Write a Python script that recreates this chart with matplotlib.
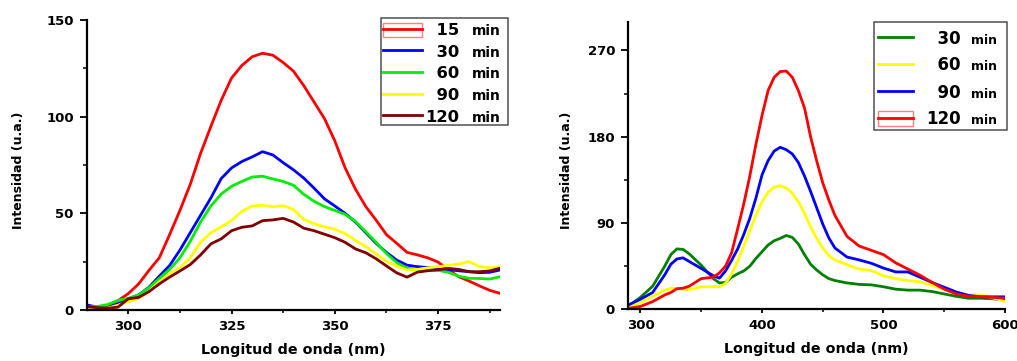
import matplotlib
matplotlib.use('Agg')
import matplotlib.pyplot as plt
from matplotlib.ticker import MultipleLocator
from matplotlib.patches import Rectangle
from matplotlib.legend_handler import HandlerTuple
from matplotlib.font_manager import FontProperties

plt.rcParams['font.family'] = ['DejaVu Sans']
plt.rcParams['font.weight'] = 'bold'

# ---- left panel: emission spectra (290-390 nm), every 2.5 nm ----
wl_a = [290 + 2.5 * i for i in range(41)]
a_15 = [1.5, 1.2, 2, 4.8, 8.5, 13.5, 20.5, 27, 39, 51.5, 65, 81, 95, 108.5, 120, 126.5,
        131, 132.8, 131.8, 128, 123.5, 116, 107.5, 99, 87.5, 73.5, 62.5, 53.5, 46.5, 39,
        34.5, 29.8, 28.5, 27, 24.8, 20.8, 17.2, 15, 12.5, 10.2, 8.6]
a_30 = [2.6, 1.5, 1.2, 3.2, 5.8, 7.8, 11.8, 17.5, 23, 31, 40, 49, 58, 68, 73.5, 76.8,
        79.2, 81.9, 80.2, 76.2, 72.5, 68.2, 63, 57.5, 53.8, 50, 45.5, 40, 34.5, 29.8,
        25.8, 23.2, 22.4, 22, 21.4, 20.8, 20.3, 19.8, 19.3, 19.5, 20.7]
a_60 = [1.5, 1.8, 2.8, 5, 6, 7.8, 11.5, 16.3, 21, 27, 35.5, 45.5, 53.8, 60, 64, 66.5,
        68.8, 69.2, 67.8, 66.5, 64.5, 59.8, 56.2, 53.5, 51.5, 49.5, 45.8, 40.5, 35, 29.2,
        24.5, 21.6, 21, 20.7, 20.5, 19.5, 17.5, 16.4, 16.3, 16, 17.2]
a_90 = [0.9, 0.8, 1, 2.5, 4.3, 6, 9.5, 14.5, 18.6, 22, 27, 35, 40, 43, 46.3, 51,
        53.8, 54.2, 53.4, 54, 52, 46.8, 44.6, 43, 41.8, 39.5, 36, 32.8, 29, 25.2,
        22.6, 20.7, 21, 21.8, 22.4, 23.1, 23.8, 25, 22.5, 21.8, 22.4]
a_120 = [1.7, 1.2, 0.9, 1.5, 5.8, 6.5, 9.5, 13.5, 17, 20.2, 23.5, 28.5, 34.2, 36.8, 41, 42.8,
         43.5, 46.2, 46.6, 47.4, 45.5, 42.3, 41, 39.2, 37.4, 35, 31.6, 29.6, 26.5, 22.8,
         19.2, 17, 19.6, 20.3, 20.8, 21.5, 21, 19.8, 19.8, 20.2, 21.6]
labels_a = ['15', '30', '60', '90', '120']
colors_a = ['#ff0000', '#0000ff', '#00ee00', '#ffff00', '#800000']

# ---- right panel: emission spectra (290-600 nm) ----
wl_b = [290, 300, 310, 320, 325, 330, 335, 340, 350, 360, 365, 370, 375, 380, 385, 390,
        395, 400, 405, 410, 415, 420, 425, 430, 435, 440, 445, 450, 455, 460, 470, 480,
        490, 500, 510, 520, 530, 540, 550, 560, 570, 580, 590, 600]
b_30 = [3, 12.5, 24, 45, 57, 63, 62.5, 58, 46, 32, 27.5, 28, 33.5, 37, 40, 45,
        53, 60, 67, 71.5, 74, 77, 75, 68, 57, 47, 41, 36, 32, 30, 27.5, 26,
        25.5, 23.5, 21, 20, 20, 18.5, 16, 13.5, 11.5, 11.5, 11, 9.5]
b_60 = [2.7, 7, 13.5, 20, 21.8, 21.8, 21, 20.5, 23.5, 23.5, 23.5, 27, 37, 50, 66, 82,
        98, 112, 122, 127.5, 129, 126.5, 121, 112, 100, 86, 74, 64, 56, 51.5, 46.5, 42,
        40.5, 35, 32, 30, 28.7, 25, 21, 17.5, 15, 14.8, 12, 8]
b_90 = [4.5, 10.5, 17.5, 36, 47, 52.5, 53.7, 50, 42.6, 35, 32.5, 40, 51, 63, 78, 95,
        116, 140, 155, 165, 169, 166.5, 162, 153, 139, 123, 106, 89, 74.5, 64, 54.5, 51.5,
        48, 43, 39, 39, 33.5, 28, 23, 18, 14.5, 13, 13, 13]
b_120 = [1, 3, 8, 15, 17.5, 21.5, 22, 24, 32, 33.5, 38, 45, 59, 84, 110, 139,
         172, 202, 228, 242, 248, 248.5, 242, 228, 210, 180, 155, 132, 114, 98, 76, 66,
         61.5, 57, 48.5, 42, 35.6, 28, 21, 16, 13.5, 13, 12.5, 11.5]
labels_b = ['30', '60', '90', '120']
colors_b = ['#008000', '#ffff00', '#0000ff', '#ff0000']

W, H = 1017, 361
fig = plt.figure(figsize=(W / 100, H / 100), dpi=100)
ax1 = fig.add_axes([87 / W, 1 - 310 / H, 413 / W, 290 / H])
ax2 = fig.add_axes([628.3 / W, 1 - 309.3 / H, 376.7 / W, 287.6 / H])


def style(ax, xlim, ylim, xmaj, xmin, ymaj, ymin):
    ax.set_xlim(*xlim)
    ax.set_ylim(*ylim)
    ax.xaxis.set_major_locator(MultipleLocator(xmaj))
    ax.xaxis.set_minor_locator(MultipleLocator(xmin))
    ax.yaxis.set_major_locator(MultipleLocator(ymaj))
    ax.yaxis.set_minor_locator(MultipleLocator(ymin))
    for s in ['top', 'right']:
        ax.spines[s].set_visible(False)
    for s in ['left', 'bottom']:
        ax.spines[s].set_linewidth(1.6)
    ax.tick_params(which='both', direction='out', labelsize=9.5)
    ax.tick_params(axis='y', which='major', length=5, width=1.3, pad=4.5)
    ax.tick_params(axis='y', which='minor', length=3.2, width=1.1)
    ax.tick_params(axis='x', which='major', length=3, width=1.3, pad=4)
    ax.tick_params(axis='x', which='minor', length=2.2, width=1.1)
    for t in ax.get_xticklabels() + ax.get_yticklabels():
        t.set_fontweight('bold')
    ax.set_xlabel('Longitud de onda (nm)', fontsize=10.3, fontweight='bold')
    ax.set_ylabel('Intensidad (u.a.)', fontsize=9, fontweight='bold')


style(ax1, (290, 390), (0, 150), 25, 12.5, 50, 25)
style(ax2, (290, 600), (0, 300), 100, 50, 90, 45)
ax1.xaxis.set_label_coords(0.5, -0.114)
ax1.yaxis.set_label_coords(-0.150, 0.48)
ax2.xaxis.set_label_coords(0.498, -0.114)
ax2.yaxis.set_label_coords(-0.146, 0.484)

lines_a = [ax1.plot(wl_a, v, color=c, lw=2)[0]
           for v, c in zip([a_15, a_30, a_60, a_90, a_120], colors_a)]
lines_b = [ax2.plot(wl_b, v, color=c, lw=2)[0]
           for v, c in zip([b_30, b_60, b_90, b_120], colors_b)]


def pad(t):
    return '  ' * (3 - len(t)) + t


sel_a = Rectangle((0, 0), 1, 1, facecolor='none', edgecolor='#ff8080', lw=1)
sel_b = Rectangle((0, 0), 1, 1, facecolor='none', edgecolor='#ff8080', lw=1)
handles_a = [(sel_a, lines_a[0])] + lines_a[1:]
handles_b = lines_b[:-1] + [(sel_b, lines_b[-1])]

leg1 = ax1.legend(handles_a, [pad(t) for t in labels_a],
                  handler_map={tuple: HandlerTuple(ndivide=1)}, frameon=False,
                  loc='upper left', bbox_to_anchor=(383.3 / W, 1 - 22.5 / H),
                  bbox_transform=fig.transFigure, borderpad=0, borderaxespad=0,
                  handlelength=2.34, handletextpad=0.2, labelspacing=0.34,
                  handleheight=1.0, prop={'size': 11.8, 'weight': 'bold'})
leg2 = ax2.legend(handles_b, [pad(t) for t in labels_b],
                  handler_map={tuple: HandlerTuple(ndivide=1)}, frameon=False,
                  loc='upper left', bbox_to_anchor=(878.3 / W, 1 - 29.5 / H),
                  bbox_transform=fig.transFigure, borderpad=0, borderaxespad=0,
                  handlelength=2.1, handletextpad=0.78, labelspacing=0.54,
                  handleheight=1.0, prop={'size': 12, 'weight': 'bold'})

fig.canvas.draw()
renderer = fig.canvas.get_renderer()
inv = fig.transFigure.inverted()
for leg, num_size, min_size, gap in [(leg1, 11.8, 10, 13), (leg2, 12, 9, 10)]:
    _, _, d = renderer.get_text_width_height_descent(
        'lp', FontProperties(family='DejaVu Sans', weight='bold', size=num_size), ismath=False)
    for t in leg.get_texts():
        bb = t.get_window_extent(renderer)
        x, y = inv.transform((bb.x1 + gap, bb.y0 + d))
        fig.text(x, y, 'min', fontsize=min_size, fontweight='bold', va='baseline', ha='left')

fig.add_artist(Rectangle((381 / W, 1 - 125 / H), 127 / W, 107 / H, transform=fig.transFigure,
                         facecolor='none', edgecolor='#505050', lw=1.1))
fig.add_artist(Rectangle((874 / W, 1 - 130 / H), 133 / W, 108 / H, transform=fig.transFigure,
                         facecolor='none', edgecolor='#505050', lw=1.1))

fig.savefig('out.png', dpi=100)
